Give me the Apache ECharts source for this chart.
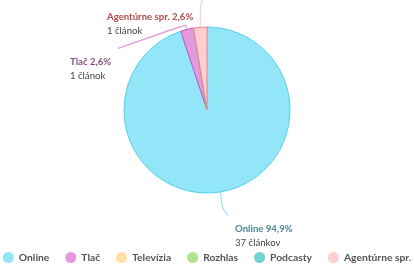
<!DOCTYPE html>
<html><head><meta charset="utf-8">
<script src="https://cdn.jsdelivr.net/npm/echarts@6/dist/echarts.min.js"></script>
<style>html,body{margin:0;padding:0;background:#fff}#c{width:414px;height:270px}</style>
</head><body><div id="c"></div>
<script>
var categories = ['Online', 'Tlač', 'Televízia', 'Rozhlas', 'Podcasty', 'Agentúrne spr.'];
var counts = [37, 1, 0, 0, 0, 1];
var fills = ['#93e6f8', '#e599dd', '#ffdfa6', '#b3e38c', '#70d3d1', '#ffcdcd'];
var borders = ['#4fd1ee', '#c157c0', '#f5c36b', '#86c95a', '#3fb8b5', '#f08a8a'];
var labelColors = ['#4d8794', '#8a4f86', '#8e7a4f', '#5f8a44', '#3e8a88', '#b24a4a'];
var total = counts.reduce(function(a,b){return a+b;},0);
function unit(n){ return n === 1 ? 'článok' : (n >= 2 && n <= 4 ? 'články' : 'článkov'); }
// label placement (layout only): top-left of label box, and guide-line bends relative to slice edge
var labelPlace = {0:{x:235, y:222, bends:[[2,17],[8,24]]},
                  1:{x:70,  y:55,  bends:[[-1,-5],[-69,19]]},
                  5:{x:107, y:10,  bends:[[0,-22],[3,-30]]}};
var data = categories.map(function(c,i){
  var show = counts[i] > 0;
  return {name:c, value:counts[i],
    itemStyle:{color:fills[i], borderColor:borders[i], borderWidth:1},
    label:{show:show, rich:{t:{color:labelColors[i], fontWeight:'bold', fontSize:9.6, fontFamily:'Lato', lineHeight:14},
                 s:{color:'#444', fontSize:9.6, fontFamily:'Lato', lineHeight:14}}},
    labelLine:{show:show, lineStyle:{color:fills[i], width:1.2}}
  };
});
var chart = echarts.init(document.getElementById('c'));
chart.setOption({
  animation:false,
  legend:{bottom:7, left:'center', padding:0, icon:'circle', itemWidth:11, itemHeight:11, itemGap:16,
    itemStyle:{borderWidth:0},
    textStyle:{color:'#555', fontSize:10.3, fontWeight:'bold', fontFamily:'Lato'},
    data:categories},
  series:[{type:'pie', center:[207,110], radius:83, startAngle:90, clockwise:true,
    data:data,
    label:{align:'left', formatter:function(p){
      var pct=(p.value/total*100).toFixed(1).replace('.',',');
      return '{t|'+p.name+' '+pct+'%}\n{s|'+p.value+' '+unit(p.value)+'}';}},
    labelLine:{smooth:true, length:20, length2:8},
    labelLayout:function(p){
      var L = labelPlace[p.dataIndex];
      if (!L || !p.labelLinePoints) return {};
      var s = p.labelLinePoints[0];
      var pts = [s].concat(L.bends.map(function(b){return [s[0]+b[0], s[1]+b[1]];}));
      return {x:L.x, y:L.y, align:'left', verticalAlign:'top', labelLinePoints:pts};
    },
    emphasis:{disabled:true}
  }]
});
</script></body></html>
